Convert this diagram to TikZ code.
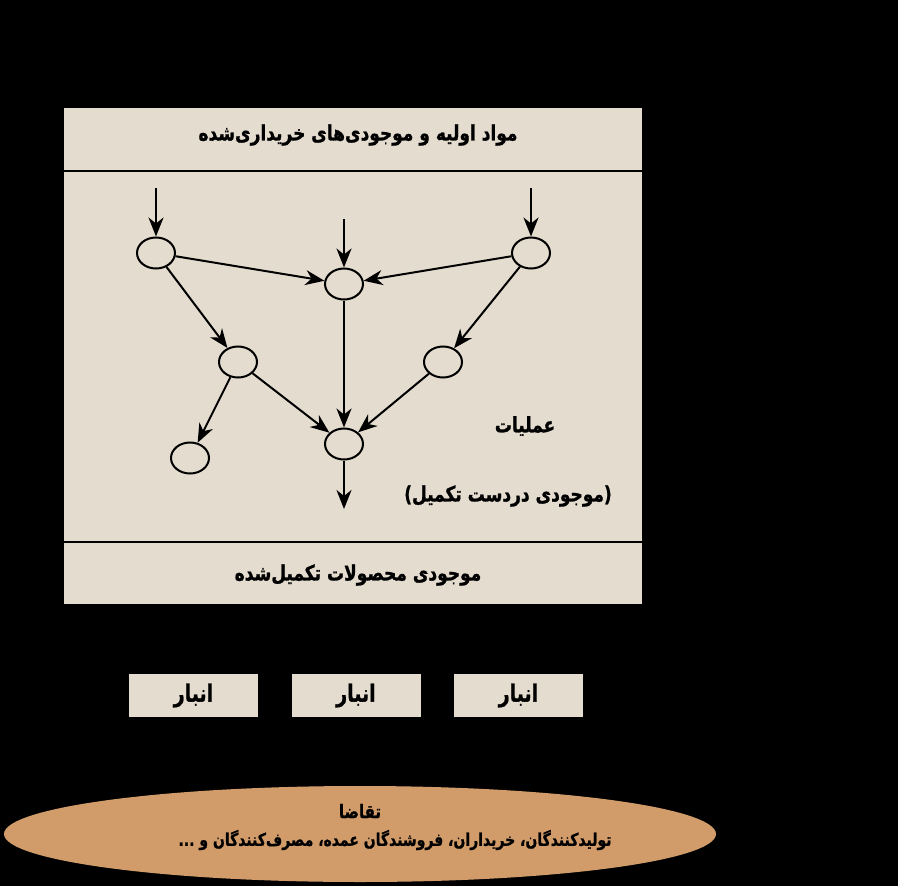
\documentclass[tikz,border=0pt]{standalone}
\usepackage{fontspec}
\newfontfamily\farsi[Script=Arabic,BoldFeatures={FakeBold=1.2}]{DejaVu Sans}
\TeXXeTstate=1
\usetikzlibrary{arrows.meta,shapes.geometric}
\definecolor{paper}{RGB}{228,221,207}
\definecolor{wood}{RGB}{210,156,106}
\newcommand\tallrtl[1]{\scalebox{1}[1.25]{\beginR #1\endR}}

\begin{document}
\begin{tikzpicture}[x=1pt,y=-1pt,
		proc/.style={ellipse,draw,line width=2pt,minimum width=38pt,minimum height=31pt,inner sep=0pt},
		flow/.style={line width=2pt,-{Stealth[length=19pt,width=15pt,inset=6pt]}},
		fa/.style={font=\farsi\bfseries\fontsize{17}{20}\selectfont},
		store/.style={fill=paper,minimum width=129pt,minimum height=43pt,inner sep=0pt,
			font=\farsi\bfseries\fontsize{19}{22}\selectfont}
	]
	% background and bounding box
	\fill[black] (0,0) rectangle (898,886);
	\useasboundingbox (0,0) rectangle (898,886);

	% plant
	\node[fill=paper,minimum width=578pt,minimum height=496pt,inner sep=0pt] (plant) at (353,356) {};
	\draw[line width=1.6pt] (plant.west |- 0,171) -- (plant.east |- 0,171);
	\draw[line width=1.6pt] (plant.west |- 0,542) -- (plant.east |- 0,542);

	\node[fa] (raw) at (358,135) {\tallrtl{مواد اولیه و موجودی^^^^200cهای خریداری^^^^200cشده}};
	\node[fa] (ops) at (525,426) {\tallrtl{عملیات}};
	\node[fa] (wip) at (508,496) {\scalebox{1}[1.25]{)\beginR موجودی دردست تکمیل\endR(}};
	\node[fa] (fin) at (358,575) {\tallrtl{موجودی محصولات تکمیل^^^^200cشده}};

	% operations
	\node[proc] (p1) at (156,253) {};
	\node[proc] (p2) at (344,284) {};
	\node[proc] (p3) at (531,253) {};
	\node[proc] (p4) at (238,362) {};
	\node[proc] (p5) at (443,362) {};
	\node[proc] (p6) at (344,444) {};
	\node[proc] (p7) at (190,458) {};

	\coordinate (in1) at (156,188);
	\coordinate (in2) at (344,219);
	\coordinate (in3) at (531,188);
	\coordinate (out) at (344,509);

	\draw[flow] (in1) -- (p1);
	\draw[flow] (in2) -- (p2);
	\draw[flow] (in3) -- (p3);
	\draw[flow] (p1) -- (p2);
	\draw[flow] (p3) -- (p2);
	\draw[flow] (p1) -- (p4);
	\draw[flow] (p3) -- (p5);
	\draw[flow] (p4) -- (p7);
	\draw[flow] (p4) -- (p6);
	\draw[flow] (p2) -- (p6);
	\draw[flow] (p5) -- (p6);
	\draw[flow] (p6) -- (out);

	% warehouses
	\node[store] (w1) at (193.5,695.5) {\tallrtl{انبار}};
	\node[store] (w2) at (356,695.5) {\tallrtl{انبار}};
	\node[store] (w3) at (518.5,695.5) {\tallrtl{انبار}};

	% demand
	\node[ellipse,fill=wood,minimum width=712pt,minimum height=96pt,inner sep=0pt] (demand) at (360,834) {};
	\node[fa,font=\farsi\bfseries\fontsize{15}{17}\selectfont] (dtitle) at (360,811) {\tallrtl{تقاضا}};
	\node[fa,font=\farsi\bfseries\fontsize{14}{16}\selectfont] (dlist) at (395,840)
		{\tallrtl{تولیدکنندگان، خریداران، فروشندگان عمده، مصرف^^^^200cکنندگان و ...}};
\end{tikzpicture}
\end{document}
